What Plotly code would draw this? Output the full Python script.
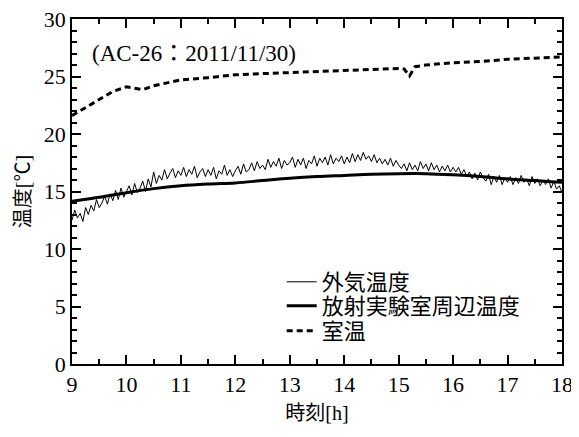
import numpy as np
import plotly.graph_objects as go

# Outside air temperature, read every 0.05 h from 9:00 to 18:00
outside_temp = [
    12.5, 13.4, 12.7, 13.1, 12.4, 13.6, 13.0, 13.8, 13.3, 14.3, 13.6, 14.0, 14.6, 13.9, 14.8, 14.2, 15.1, 14.3, 15.3, 14.5, 15.0,
    15.5, 14.7, 15.7, 14.9, 15.3, 15.9, 15.0, 16.1, 15.4, 16.7, 15.7, 16.4, 16.0, 16.9, 16.1, 16.6, 17.0, 16.2, 16.8, 16.4,
    17.1, 16.3, 16.9, 16.5, 17.2, 16.2, 16.7, 17.0, 16.3, 16.9, 16.4, 17.1, 16.1, 16.8, 16.5, 17.3, 16.4, 16.9, 16.3, 16.8,
    17.2, 16.5, 17.4, 16.7, 16.9, 17.5, 16.8, 17.6, 17.0, 17.3, 16.9, 17.8, 17.1, 17.6, 17.2, 17.9, 17.0, 17.7, 17.3, 17.5,
    18.0, 17.1, 17.8, 17.3, 17.9, 17.0, 17.7, 17.4, 18.1, 17.2, 17.9, 17.5, 18.0, 17.3, 18.2, 17.4, 17.9, 17.6, 18.1, 17.4,
    18.0, 17.5, 18.3, 17.6, 18.2, 17.7, 18.4, 17.8, 18.1, 17.6, 18.2, 17.5, 17.9, 17.4, 17.8, 17.3, 17.9, 17.2, 17.7, 17.3,
    17.0, 17.4, 16.8, 17.5, 16.9, 17.3, 16.8, 17.6, 17.0, 17.4, 16.8, 17.5, 16.9, 17.3, 16.7, 17.2, 16.8, 17.3, 16.7, 17.1,
    16.7, 17.1, 16.5, 16.9, 16.3, 16.7, 16.1, 16.6, 16.0, 16.7, 16.2, 15.9, 16.5, 15.6, 16.3, 15.8, 16.4, 15.6, 16.2, 15.8,
    16.3, 15.6, 16.2, 15.7, 16.4, 15.8, 16.1, 15.5, 16.3, 15.7, 16.1, 15.5, 16.0, 15.6, 16.1, 15.3, 15.9, 15.2, 15.5, 14.9,
]
outside_time = np.linspace(9, 18, len(outside_temp))

# Temperature around the radiation laboratory
lab_time = [9.0, 9.5, 10.0, 10.5, 11.0, 11.5, 12.0, 12.5, 13.0, 13.5, 14.0, 14.5, 15.0, 15.5, 16.0, 16.5, 17.0, 17.5, 17.8, 18.0]
lab_temp = [14.15, 14.5, 14.9, 15.25, 15.5, 15.65, 15.75, 15.95, 16.15, 16.3, 16.4, 16.5, 16.55, 16.55, 16.45, 16.3, 16.1, 15.95, 15.85, 15.8]

# Room temperature
room_time = [9.0, 9.25, 9.5, 9.75, 10.0, 10.1, 10.3, 10.5, 11.0, 11.5, 12.0, 12.5, 13.0, 13.5, 14.0, 14.5, 15.0, 15.1, 15.2, 15.3, 15.5, 16.0, 16.5, 17.0, 17.5, 18.0]
room_temp = [21.6, 22.3, 23.0, 23.7, 24.1, 24.0, 23.85, 24.2, 24.7, 24.9, 25.15, 25.25, 25.35, 25.45, 25.5, 25.6, 25.7, 25.65, 25.05, 25.85, 26.0, 26.2, 26.3, 26.5, 26.6, 26.7]

x_ticks = [9, 10, 11, 12, 13, 14, 15, 16, 17, 18]
y_ticks = [0, 5, 10, 15, 20, 25, 30]

FONT = "Liberation Serif, Times New Roman, Noto Sans CJK JP, serif"

fig = go.Figure()
fig.add_trace(go.Scatter(x=outside_time, y=outside_temp, mode="lines", name="外気温度",
                         line=dict(color="black", width=1), legend="legend"))
fig.add_trace(go.Scatter(x=lab_time, y=lab_temp, mode="lines", name="放射実験室周辺温度",
                         line=dict(color="black", width=3, shape="spline"), legend="legend2"))
fig.add_trace(go.Scatter(x=room_time, y=room_temp, mode="lines", name="室温",
                         line=dict(color="black", width=3, dash="6px,4px"), legend="legend3"))

fig.add_annotation(x=9.33, y=27.0, xref="x", yref="y", text="(AC-26：2011/11/30)",
                   showarrow=False, xanchor="left", yanchor="middle",
                   font=dict(family=FONT, size=23, color="black"))

axis_common = dict(
    showgrid=False, zeroline=False, showline=True, linecolor="black", linewidth=1.5,
    mirror="ticks", ticks="inside", ticklen=9, tickwidth=1.5, tickcolor="black",
    tickfont=dict(family=FONT, size=22, color="black"), automargin=False,
    ticklabeloverflow="allow",
)
fig.update_xaxes(range=[9, 18], tickvals=x_ticks, ticktext=[str(v) for v in x_ticks],
                 minor=dict(dtick=0.5, ticks="inside", ticklen=5, tickwidth=1.5, tickcolor="black"),
                 title=dict(text="時刻[h]", font=dict(family=FONT, size=20, color="black"), standoff=10),
                 **axis_common)
fig.update_yaxes(range=[0, 30], tickvals=y_ticks, ticktext=[str(v) for v in y_ticks],
                 minor=dict(dtick=1, ticks="inside", ticklen=5, tickwidth=1.5, tickcolor="black"),
                 title=dict(text="温度[℃]", font=dict(family=FONT, size=20, color="black"), standoff=8),
                 **axis_common)

legend_common = dict(xanchor="left", yanchor="middle", bgcolor="rgba(0,0,0,0)",
                     font=dict(family=FONT, size=22, color="black"), itemwidth=30)
fig.update_layout(
    width=571, height=421,
    margin=dict(l=64, r=17, t=11, b=65),
    paper_bgcolor="white", plot_bgcolor="white",
    font=dict(family=FONT, color="black"),
    showlegend=True,
    legend=dict(x=0.428, y=0.2377, **legend_common),
    legend2=dict(x=0.428, y=0.168, **legend_common),
    legend3=dict(x=0.428, y=0.0957, **legend_common),
)

fig.write_html("out.html")
